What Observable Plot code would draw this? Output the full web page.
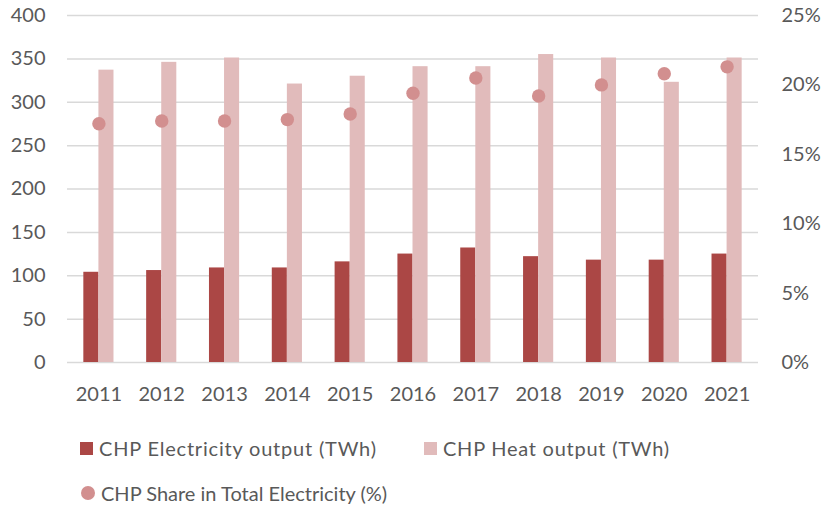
<!DOCTYPE html>
<html>
<head>
<meta charset="utf-8">
<script src="https://cdn.jsdelivr.net/npm/d3@7"></script>
<script src="https://cdn.jsdelivr.net/npm/@observablehq/plot@0.6"></script>
<style>
  body { margin: 0; background: #fff; font-family: Lato, "Open Sans", sans-serif; }
  #wrap { position: relative; width: 825px; height: 506px; overflow: hidden; }
  #chart { position: absolute; left: 0; top: 0; }
  .legend { position: absolute; font-size: 20px; line-height: 24px; color: #595959; display: flex; align-items: center; white-space: nowrap; }
  .sw { display: inline-block; width: 13px; height: 13px; margin-right: 6px; }
  .sw.c { width: 14px; height: 14px; border-radius: 50%; }
</style>
</head>
<body>
<div id="wrap">
  <div id="chart"></div>
  <div id="legend"></div>
</div>
<script>
// ---- data ----
const years = ["2011", "2012", "2013", "2014", "2015", "2016", "2017", "2018", "2019", "2020", "2021"];
const electricity = [104, 106, 109, 109, 116, 125, 132, 122, 118, 118, 125];
const heat = [337, 346, 351, 321, 330, 341, 341, 355, 351, 323, 351];
const share = [17.2, 17.4, 17.4, 17.5, 17.9, 19.4, 20.5, 19.2, 20.0, 20.8, 21.3];
const leftTicks = [0, 50, 100, 150, 200, 250, 300, 350, 400];
const rightTicks = [0, 5, 10, 15, 20, 25];
const seriesNames = ["CHP Electricity output (TWh)", "CHP Heat output (TWh)", "CHP Share in Total Electricity (%)"];
const colors = ["#AB4745", "#E1BBBB", "#D28F8F"];

// ---- build ----
const rows = years.map((y, i) => ({ year: y, elec: electricity[i], heat: heat[i], share: share[i] }));
const k = 400 / 25; // right axis (%) mapped onto left axis

const plotWidth = 825 - 67 - 67;
const step = plotWidth / 11;
const half = step * 0.48 / 2;

const chart = Plot.plot({
  width: 825,
  height: 420,
  marginTop: 15,
  marginBottom: 58,
  marginLeft: 67,
  marginRight: 67,
  style: { fontFamily: "Lato, 'Open Sans', sans-serif", fontSize: "20px", color: "#595959", background: "transparent", overflow: "visible" },
  x: { domain: years, paddingInner: 0.52, paddingOuter: 0.26, round: false, label: null },
  y: { domain: [0, 400], label: null },
  marks: [
    Plot.gridY(leftTicks, { stroke: "#d9d9d9", strokeOpacity: 1, strokeWidth: 1.5 }),
    Plot.barY(rows, { x: "year", y: "elec", fill: colors[0], insetLeft: 0, insetRight: half }),
    Plot.barY(rows, { x: "year", y: "heat", fill: colors[1], insetLeft: half, insetRight: 0 }),
    Plot.dot(rows, { x: "year", y: d => d.share * k, r: 6.7, fill: colors[2], stroke: null }),
    Plot.axisY(leftTicks, { anchor: "left", tickSize: 0, tickPadding: 22, label: null, fontSize: 20, fill: "#595959" }),
    Plot.axisY(rightTicks.map(v => v * k), { anchor: "right", tickSize: 0, tickPadding: 23, label: null, fontSize: 20, fill: "#595959", tickFormat: d => (d / k) + "%" }),
    Plot.axisX({ anchor: "bottom", tickSize: 0, tickPadding: 24, label: null, fontSize: 20, fill: "#595959" })
  ]
});
document.getElementById("chart").appendChild(chart);

// ---- legend ----
const legendPos = [
  { left: 80, top: 436, circle: false, ls: 0.8 },
  { left: 424, top: 436, circle: false, ls: 0.75 },
  { left: 81, top: 481, circle: true, ls: 0 }
];
const legend = document.getElementById("legend");
seriesNames.forEach((name, i) => {
  const item = document.createElement("div");
  item.className = "legend";
  item.style.left = legendPos[i].left + "px";
  item.style.top = legendPos[i].top + "px";
  const sw = document.createElement("span");
  sw.className = "sw" + (legendPos[i].circle ? " c" : "");
  sw.style.background = colors[i];
  const t = document.createElement("span");
  t.textContent = name;
  t.style.letterSpacing = legendPos[i].ls + "px";
  item.appendChild(sw);
  item.appendChild(t);
  legend.appendChild(item);
});
</script>
</body>
</html>
